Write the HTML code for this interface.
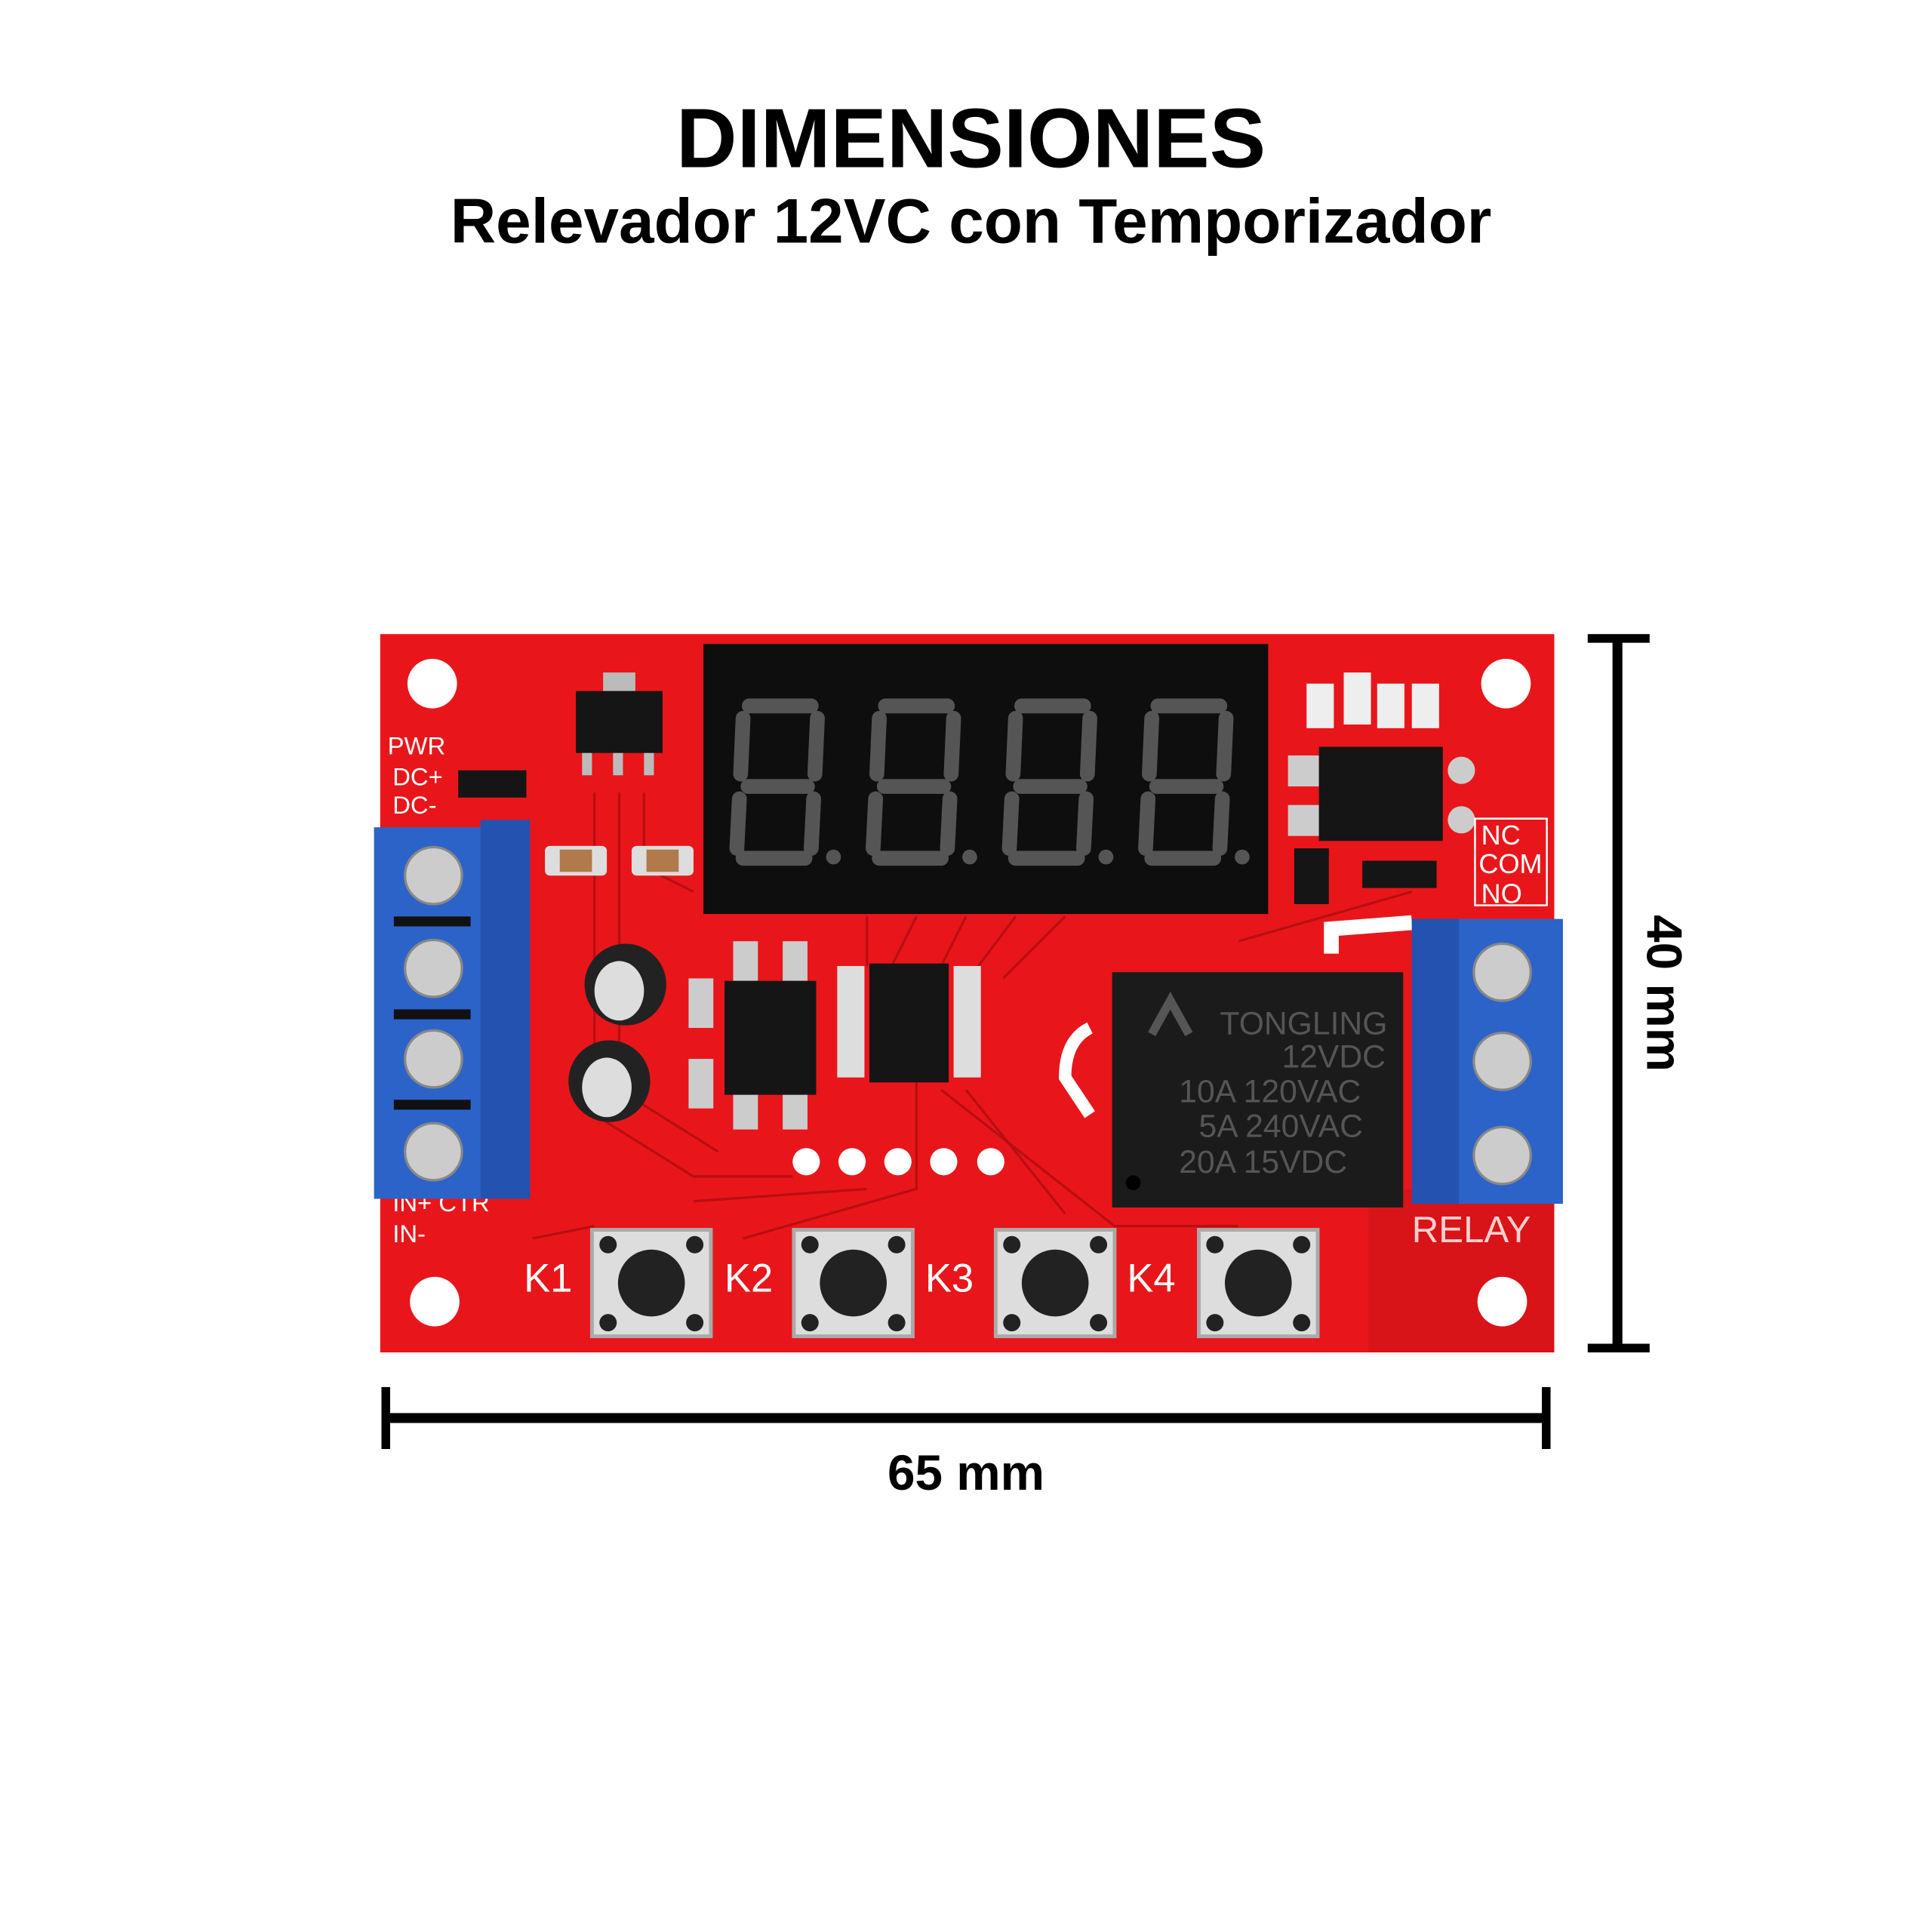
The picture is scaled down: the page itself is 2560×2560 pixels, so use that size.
<!DOCTYPE html>
<html><head><meta charset="utf-8"><style>
html,body{margin:0;padding:0;background:#fff}
svg{display:block}
text{font-family:"Liberation Sans",sans-serif}
</style></head><body>
<svg width="2560" height="2560" viewBox="0 0 1560 1560" xmlns="http://www.w3.org/2000/svg">
<rect width="1560" height="1560" fill="#fff"/>
<text x="784" y="135" text-anchor="middle" font-size="68" font-weight="bold" fill="#000">DIMENSIONES</text>
<text x="784" y="196" text-anchor="middle" font-size="51" font-weight="bold" fill="#000">Relevador 12VC con Temporizador</text>

<rect x="307" y="512" width="948" height="580" fill="#e8161a"/>
<rect x="1105" y="960" width="150" height="132" fill="#d81418"/>
<g stroke="#b80e12" stroke-width="2" fill="none">
<path d="M480 640 L480 900 L560 950 L640 950"/>
<path d="M500 640 L500 880 L580 930"/>
<path d="M520 640 L520 700 L560 720"/>
<path d="M700 740 L700 780"/><path d="M740 740 L720 780"/><path d="M780 740 L760 780"/>
<path d="M820 740 L790 780"/><path d="M860 740 L810 790"/>
<path d="M740 870 L740 960 L600 1000"/><path d="M760 880 L900 990 L1000 990"/>
<path d="M780 880 L860 980"/><path d="M1000 760 L1140 720"/>
<path d="M430 1000 L480 990"/><path d="M560 970 L700 960"/>
</g>
<g fill="#fff"><circle cx="349" cy="552" r="20"/><circle cx="1216" cy="552" r="20"/><circle cx="351" cy="1051" r="20"/><circle cx="1213" cy="1051" r="20"/></g>

<rect x="568" y="520" width="456" height="218" fill="#0e0e0e"/>
<g fill="none" stroke="#555" stroke-width="12" stroke-linecap="round">
<g id="d"><path d="M605 570 L655 570 M600 580 L598 625 M660 580 L658 625 M604 635 L652 635 M597 645 L595 685 M657 645 L655 685 M600 693 L650 693"/></g>
<use href="#d" x="110"/><use href="#d" x="220"/><use href="#d" x="330"/>
</g>
<g fill="#555"><circle cx="673" cy="692" r="6"/><circle cx="783" cy="692" r="6"/><circle cx="893" cy="692" r="6"/><circle cx="1003" cy="692" r="6"/></g>

<rect x="487" y="543" width="26" height="15" fill="#bbb"/>
<rect x="465" y="558" width="70" height="50" fill="#151515"/>
<g fill="#bbb"><rect x="470" y="608" width="8" height="18"/><rect x="495" y="608" width="8" height="18"/><rect x="520" y="608" width="8" height="18"/></g>
<rect x="370" y="622" width="55" height="22" fill="#151515"/>
<rect x="440" y="683" width="50" height="24" rx="4" fill="#ddd"/><rect x="452" y="686" width="26" height="18" fill="#b07a4a"/>
<rect x="510" y="683" width="50" height="24" rx="4" fill="#ddd"/><rect x="522" y="686" width="26" height="18" fill="#b07a4a"/>
<circle cx="505" cy="795" r="33" fill="#222"/><ellipse cx="500" cy="800" rx="20" ry="24" fill="#ddd"/>
<circle cx="492" cy="873" r="33" fill="#222"/><ellipse cx="490" cy="878" rx="20" ry="24" fill="#ddd"/>
<rect x="556" y="790" width="20" height="40" fill="#ccc"/><rect x="556" y="855" width="20" height="40" fill="#ccc"/>
<g fill="#ccc"><rect x="592" y="760" width="20" height="32"/><rect x="632" y="760" width="20" height="32"/><rect x="592" y="880" width="20" height="32"/><rect x="632" y="880" width="20" height="32"/></g>
<rect x="585" y="792" width="74" height="92" fill="#151515"/>
<g fill="#ddd">
<rect x="676" y="780" width="22" height="90"/><rect x="770" y="780" width="22" height="90"/></g>
<rect x="702" y="778" width="64" height="96" fill="#151515"/>
<g fill="#fff"><circle cx="651" cy="938" r="11"/><circle cx="688" cy="938" r="11"/><circle cx="725" cy="938" r="11"/><circle cx="762" cy="938" r="11"/><circle cx="800" cy="938" r="11"/></g>
<g fill="#eee"><rect x="1055" y="552" width="22" height="36"/><rect x="1085" y="543" width="22" height="42"/><rect x="1112" y="552" width="22" height="36"/><rect x="1140" y="552" width="22" height="36"/></g>
<g fill="#ccc"><rect x="1040" y="610" width="25" height="25"/><rect x="1040" y="650" width="25" height="25"/><circle cx="1180" cy="622" r="11"/><circle cx="1180" cy="662" r="11"/></g>
<rect x="1065" y="603" width="100" height="76" fill="#151515"/>
<rect x="1045" y="685" width="28" height="45" fill="#151515"/>
<rect x="1100" y="695" width="60" height="22" fill="#151515"/>
<g font-size="22" fill="#fff"><text x="1196" y="682">NC</text><text x="1194" y="705">COM</text><text x="1196" y="729">NO</text></g>
<g fill="none" stroke="#fff" stroke-width="1.5"><rect x="1191" y="661" width="58" height="70"/></g>
<g font-size="20" fill="#fff"><text x="313" y="609">PWR</text><text x="317" y="634">DC+</text><text x="317" y="657">DC-</text><text x="317" y="978">IN+ CTR</text><text x="317" y="1003">IN-</text></g>
<rect x="302" y="668" width="124" height="300" fill="#2c63c9"/>
<rect x="388" y="662" width="40" height="306" fill="#2352b0"/>
<g fill="#ccc" stroke="#888" stroke-width="2"><circle cx="350" cy="707" r="23"/><circle cx="350" cy="782" r="23"/><circle cx="350" cy="855" r="23"/><circle cx="350" cy="930" r="23"/></g>
<g fill="#111"><rect x="318" y="740" width="62" height="8"/><rect x="318" y="815" width="62" height="8"/><rect x="318" y="888" width="62" height="8"/></g>
<path d="M880 830 Q860 840 860 870 L880 900" fill="none" stroke="#fff" stroke-width="10"/>
<path d="M1075 770 L1075 750 L1140 745" fill="none" stroke="#fff" stroke-width="12"/>
<rect x="898" y="785" width="235" height="190" fill="#1b1b1b"/>
<g fill="#555" font-size="26"><text x="985" y="835">TONGLING</text><text x="1035" y="862">12VDC</text><text x="952" y="890">10A  120VAC</text><text x="968" y="918">5A  240VAC</text><text x="952" y="947">20A  15VDC</text></g>
<path d="M930 835 L945 808 L960 835" fill="none" stroke="#555" stroke-width="7"/>
<circle cx="915" cy="955" r="6" fill="#000"/>
<rect x="1140" y="742" width="122" height="230" fill="#2c63c9"/>
<rect x="1140" y="742" width="38" height="230" fill="#2352b0"/>
<g fill="#ccc" stroke="#888" stroke-width="2"><circle cx="1213" cy="785" r="23"/><circle cx="1213" cy="857" r="23"/><circle cx="1213" cy="933" r="23"/></g>
<text x="1140" y="1003" font-size="30" fill="#ffd0d0">RELAY</text>
<g font-size="32" fill="#fff"><text x="423" y="1043">K1</text><text x="585" y="1043">K2</text><text x="747" y="1043">K3</text><text x="910" y="1043">K4</text></g>
<g id="b">
<rect x="478" y="993" width="96" height="86" fill="#ddd" stroke="#aaa" stroke-width="3"/>
<circle cx="526" cy="1036" r="27" fill="#222"/>
<g fill="#222"><circle cx="491" cy="1005" r="7"/><circle cx="561" cy="1005" r="7"/><circle cx="491" cy="1068" r="7"/><circle cx="561" cy="1068" r="7"/></g>
</g>
<use href="#b" x="163"/><use href="#b" x="326"/><use href="#b" x="490"/>

<g fill="#000">
<rect x="1302" y="514" width="8" height="576"/>
<rect x="1282" y="512" width="50" height="7"/><rect x="1282" y="1085" width="50" height="7"/>
<rect x="312" y="1141" width="938" height="8"/>
<rect x="308" y="1120" width="7" height="50"/><rect x="1245" y="1120" width="7" height="50"/>
</g>
<text x="780" y="1203" text-anchor="middle" font-size="40" font-weight="bold">65 mm</text>
<text transform="translate(1330 802) rotate(90)" text-anchor="middle" font-size="40" font-weight="bold">40 mm</text>
</svg>
</body></html>
